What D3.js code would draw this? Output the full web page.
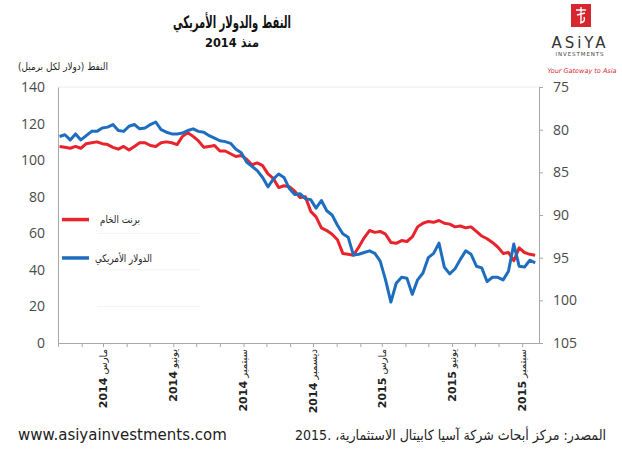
<!DOCTYPE html>
<html>
<head>
<meta charset="utf-8">
<script src="https://cdnjs.cloudflare.com/ajax/libs/d3/7.8.5/d3.min.js"></script>
<style>
  body { margin: 0; background: #fff; }
  text { font-family: "DejaVu Sans", "Liberation Sans", sans-serif; }
  .num { font-family: "Open Sans", "Liberation Sans", sans-serif; }
</style>
</head>
<body>
<svg id="chart" width="622" height="450"></svg>
<script>
// weekly Friday closes, Jan 2014 .. Sep 2015
var brent = [
    107.5, 107, 106.5, 107.5, 106.5,
    109, 109.5, 110, 109,
    108.5, 107, 106, 107.5,
    105.5, 107.5, 109.5, 109.5,
    108, 107.5, 109.5, 110, 109.5,
    108.5, 113, 115, 113,
    110.5, 107, 107.5, 108,
    105, 105, 103.5, 102, 102.5,
    100.5, 97.5, 98.5, 97,
    92.5, 90, 85, 86, 85.5,
    83, 79.5, 80, 72,
    69, 63, 61.5, 59.5,
    56.5, 49, 48.5, 48, 52.5,
    57.5, 61.5, 60.5, 61,
    59.5, 55, 54.5, 56,
    55.5, 58, 63.5, 65.5,
    66.5, 66, 67, 65.5, 65,
    63.5, 64, 63, 63.5,
    61, 58.5, 57, 55, 52.5,
    49, 49.5, 45, 52,
    49.5, 48.5, 48
];

var usd = [
    80.8, 80.6, 81.2, 80.5, 81.2,
    80.7, 80.2, 80.2, 79.8,
    79.7, 79.4, 80.1, 80.2,
    79.6, 79.4, 79.9, 79.8,
    79.4, 79.1, 80.0, 80.3, 80.5,
    80.5, 80.4, 80.1, 79.9,
    80.2, 80.3, 80.7, 81.0,
    81.3, 81.4, 81.6, 82.3, 82.7,
    83.8, 84.3, 84.8, 85.6,
    86.7, 85.8, 85.2, 85.6, 86.9,
    87.6, 87.5, 88.1, 88.2,
    89.2, 88.3, 89.5, 90.0,
    91.2, 92.2, 92.6, 94.7, 94.6,
    94.4, 94.2, 94.5, 95.4,
    97.6, 100.2, 98.0, 97.3,
    97.4, 99.3, 97.6, 96.8,
    95.0, 94.5, 93.3, 96.1, 96.9,
    96.3, 95.2, 94.2, 94.6,
    96.0, 96.2, 97.8, 97.3, 97.3,
    97.6, 96.6, 93.4, 96.0,
    96.1, 95.3, 95.6
];

var leftTicks = [0, 20, 40, 60, 80, 100, 120, 140];
var rightTicks = [75, 80, 85, 90, 95, 100, 105];
var monthLabels = ["مارس", "يونيو", "سبتمبر", "ديسمبر", "مارس", "يونيو", "سبتمبر"];
var yearLabels = ["2014", "2014", "2014", "2014", "2015", "2015", "2015"];
var seriesNames = ["برنت الخام", "الدولار الأمريكي"];

var dates = d3.timeFriday.range(new Date(2014, 0, 3), new Date(2015, 8, 19));

var svg = d3.select("#chart");

var pl = 58, pr = 539, pt = 87, pb = 343;

var x = d3.scaleTime()
    .domain([new Date(2014, 0, 1), new Date(2015, 8, 23)])
    .range([pl, pr]);
var yL = d3.scaleLinear().domain([0, 140]).range([pb, pt]);
var yR = d3.scaleLinear().domain([75, 105]).range([pt, pb]);

// faint grid remnants
svg.append("line")
    .attr("x1", pl).attr("x2", pr)
    .attr("y1", yL(140)).attr("y2", yL(140))
    .attr("stroke", "#ececec");
[60, 40, 20].forEach(function(v) {
    svg.append("line")
        .attr("x1", 97).attr("x2", 200)
        .attr("y1", yL(v)).attr("y2", yL(v))
        .attr("stroke", "#f3f3f3");
});

// left axis
var gl = svg.append("g")
    .attr("transform", "translate(" + pl + ",0)")
    .call(d3.axisLeft(yL).tickValues(leftTicks).tickSize(0).tickPadding(13));
gl.select(".domain").attr("stroke", "#a8a8a8");
gl.selectAll("text").attr("class", "num")
    .attr("font-size", 14).attr("fill", "#4a4a4a");

// right axis
var gr = svg.append("g")
    .attr("transform", "translate(" + pr + ",0)")
    .call(d3.axisRight(yR).tickValues(rightTicks).tickSize(4).tickSizeOuter(0).tickPadding(10));
gr.select(".domain").attr("stroke", "#a8a8a8");
gr.selectAll("line").attr("stroke", "#a8a8a8");
gr.selectAll("text").attr("class", "num")
    .attr("font-size", 14).attr("fill", "#4a4a4a");

// bottom axis, monthly ticks
var gb = svg.append("g")
    .attr("transform", "translate(0," + pb + ")")
    .call(d3.axisBottom(x).ticks(d3.timeMonth.every(1)).tickSize(4).tickSizeOuter(0).tickFormat(""));
gb.select(".domain").attr("stroke", "#a8a8a8");
gb.selectAll("line").attr("stroke", "#a8a8a8");

var labelDates = d3.timeMonth.range(new Date(2014, 2, 1), new Date(2015, 9, 1), 3);
labelDates.forEach(function(d, i) {
    var t = svg.append("text")
        .attr("transform", "translate(" + x(d) + "," + (pb + 6) + ") rotate(-90)")
        .attr("dy", "0.35em")
        .attr("text-anchor", "end")
        .attr("font-size", 11)
        .attr("fill", "#222");
    t.append("tspan").attr("font-weight", "bold").text(yearLabels[i]);
    t.append("tspan").attr("font-size", 10).text(" " + monthLabels[i]);
});

// lines
var lineL = d3.line().x(function(d, i) { return x(dates[i]); }).y(function(d) { return yL(d); });
var lineR = d3.line().x(function(d, i) { return x(dates[i]); }).y(function(d) { return yR(d); });

svg.append("path").datum(brent)
    .attr("d", lineL)
    .attr("fill", "none")
    .attr("stroke", "#e8232b")
    .attr("stroke-width", 3)
    .attr("stroke-linejoin", "round");

svg.append("path").datum(usd)
    .attr("d", lineR)
    .attr("fill", "none")
    .attr("stroke", "#1e6ec0")
    .attr("stroke-width", 3)
    .attr("stroke-linejoin", "round");

// legend
var legendColors = ["#e8232b", "#1e6ec0"];
var legendY = [yL(67.5), yL(46.5)];
var legendLeft = [100, 95], legendWidth = [40, 57];
seriesNames.forEach(function(name, i) {
    svg.append("line")
        .attr("x1", 62).attr("x2", 89)
        .attr("y1", legendY[i]).attr("y2", legendY[i])
        .attr("stroke", legendColors[i])
        .attr("stroke-width", 3.5);
    svg.append("text")
        .attr("x", legendLeft[i] + legendWidth[i])
        .attr("y", legendY[i])
        .attr("dy", "0.35em")
        .style("direction", "rtl")
        .attr("text-anchor", "start")
        .attr("font-size", 10.5)
        .attr("textLength", legendWidth[i])
        .attr("lengthAdjust", "spacingAndGlyphs")
        .attr("fill", "#222")
        .text(name);
});

// titles
svg.append("text")
    .attr("x", 232).attr("y", 28)
    .attr("text-anchor", "middle")
    .attr("font-size", 17).attr("font-weight", "bold")
    .attr("textLength", 118)
    .attr("lengthAdjust", "spacingAndGlyphs")
    .attr("fill", "#111")
    .text("النفط والدولار الأمريكي");
svg.append("text")
    .attr("x", 232).attr("y", 47)
    .attr("text-anchor", "middle")
    .attr("font-size", 13).attr("font-weight", "bold")
    .attr("textLength", 54)
    .attr("lengthAdjust", "spacingAndGlyphs")
    .attr("fill", "#111")
    .style("direction", "rtl")
    .text("منذ 2014");
svg.append("text")
    .attr("x", 108).attr("y", 70)
    .style("direction", "rtl")
    .attr("text-anchor", "start")
    .attr("font-size", 10)
    .attr("textLength", 90)
    .attr("lengthAdjust", "spacingAndGlyphs")
    .attr("fill", "#222")
    .text("النفط (دولار لكل برميل)");

// logo
svg.append("rect")
    .attr("x", 571).attr("y", 4).attr("width", 20).attr("height", 23)
    .attr("fill", "#d7262e");
svg.append("path")
    .attr("d", "M576,10 L586,10 M581,7 L581,22 M577,15 L585,13 M584,17 Q586,22 580,23")
    .attr("fill", "none").attr("stroke", "#fff").attr("stroke-width", 1.4);
svg.append("text")
    .attr("x", 580).attr("y", 48)
    .attr("text-anchor", "middle")
    .attr("font-family", "DejaVu Serif, Liberation Serif, serif")
    .attr("font-size", 15).attr("letter-spacing", 3)
    .attr("fill", "#333")
    .text("ASiYA");
svg.append("text")
    .attr("x", 580).attr("y", 56)
    .attr("text-anchor", "middle")
    .attr("font-family", "Liberation Serif, serif")
    .attr("font-size", 5.5).attr("letter-spacing", 0.9)
    .attr("fill", "#444")
    .text("INVESTMENTS");
svg.append("text")
    .attr("x", 582).attr("y", 73)
    .attr("text-anchor", "middle")
    .attr("font-family", "Liberation Serif, serif")
    .attr("font-style", "italic")
    .attr("font-size", 6.5)
    .attr("fill", "#d7262e")
    .text("Your Gateway to Asia");

// footer
svg.append("text")
    .attr("x", 18).attr("y", 440)
    .attr("font-family", "Liberation Sans, Arial, sans-serif")
    .attr("font-size", 15)
    .attr("fill", "#222")
    .text("www.asiyainvestments.com");
svg.append("text")
    .attr("x", 606).attr("y", 440)
    .style("direction", "rtl")
    .attr("text-anchor", "start")
    .attr("font-size", 14)
    .attr("textLength", 311)
    .attr("lengthAdjust", "spacingAndGlyphs")
    .attr("fill", "#222")
    .text("المصدر: مركز أبحاث شركة آسيا كابيتال الاستثمارية، \u20662015.\u2069");
</script>
</body>
</html>
